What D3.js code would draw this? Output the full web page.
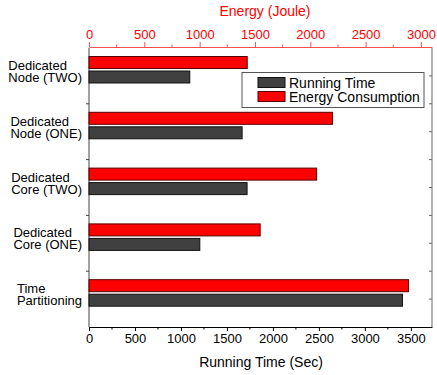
<!DOCTYPE html>
<html><head><meta charset="utf-8">
<script src="https://cdn.jsdelivr.net/npm/d3@7"></script>
<style>body{margin:0;background:#fff}svg{display:block;font-family:"Liberation Sans",Arial,sans-serif}</style>
</head><body><svg id="c" width="437" height="375"></svg>
<script>
const categories = [["Dedicated","Node (TWO)"],["Dedicated","Node (ONE)"],["Dedicated","Core (TWO)"],["Dedicated","Core (ONE)"],["Time","Partitioning"]];
const runningTime = [1096, 1665, 1719, 1205, 3409];
const energy = [1430, 2201, 2057, 1547, 2888];
const timeTicks = [0,500,1000,1500,2000,2500,3000,3500];
const energyTicks = [0,500,1000,1500,2000,2500,3000];
const legendLabels = ["Running Time","Energy Consumption"];

const svg = d3.select("#c");
const L=89, R=432, T=48, B=327;
const xT = d3.scaleLinear().domain([0,3730]).range([L,R]);
const xE = d3.scaleLinear().domain([0,3100]).range([L,R]);
const y = d3.scaleBand().domain(d3.range(categories.length)).range([T,B]);
const bw = y.bandwidth();

// frame
svg.append("line").attr("x1",L).attr("x2",L).attr("y1",T).attr("y2",B).attr("stroke","#444").attr("stroke-width",1);
svg.append("line").attr("x1",R).attr("x2",R).attr("y1",T).attr("y2",B).attr("stroke","#666").attr("stroke-width",1);

// bars
const g = svg.append("g");
categories.forEach((c,i)=>{
  const y0 = y(i);
  g.append("rect").attr("x",xE(0)).attr("y",y0+8.5).attr("width",xE(energy[i])-xE(0)).attr("height",12)
    .attr("fill","#ff0000").attr("stroke","#5a0000").attr("stroke-width",1);
  g.append("rect").attr("x",xT(0)).attr("y",y0+23).attr("width",xT(runningTime[i])-xT(0)).attr("height",12)
    .attr("fill","#404040").attr("stroke","#111").attr("stroke-width",1);
});

// left ticks between categories & right ticks
for(let i=1;i<categories.length;i++){
  const yy=y(i);
  svg.append("line").attr("x1",L-3).attr("x2",L).attr("y1",yy).attr("y2",yy).attr("stroke","#444");
  svg.append("line").attr("x1",R-3).attr("x2",R).attr("y1",yy).attr("y2",yy).attr("stroke","#666");
}
categories.forEach((c,i)=>{
  const yy=y(i)+bw/2;
  svg.append("line").attr("x1",R-3).attr("x2",R).attr("y1",yy).attr("y2",yy).attr("stroke","#666");
});

// category labels (left-aligned block, right edge at 82)
categories.forEach((c,i)=>{
  const cy = y(i)+bw/2;
  const t = svg.append("text").attr("font-size",13).attr("fill","#000");
  const t1 = t.append("tspan").attr("y",cy-6).text(c[0]);
  const t2 = t.append("tspan").attr("y",cy+6).text(c[1]);
  const w = Math.max(t1.node().getComputedTextLength(), t2.node().getComputedTextLength());
  t1.attr("x",82-w); t2.attr("x",82-w);
});

// bottom axis
const bAxis = d3.axisBottom(xT).tickValues(timeTicks).tickSize(4).tickSizeOuter(0).tickPadding(3).tickFormat(d3.format("d"));
const bg = svg.append("g").attr("transform",`translate(0,${B})`).call(bAxis);
bg.select(".domain").attr("stroke","#000");
bg.selectAll("text").attr("font-size",13).attr("fill","#000").attr("font-family","Liberation Sans, Arial, sans-serif");
bg.selectAll("line").attr("stroke","#000");
const bMinor = timeTicks.map(d=>d+250).filter(d=>d<3730);
bg.selectAll(".minor").data(bMinor).enter().append("line").attr("x1",d=>xT(d)).attr("x2",d=>xT(d)).attr("y1",0).attr("y2",2.5).attr("stroke","#000");

// top axis
const tAxis = d3.axisTop(xE).tickValues(energyTicks).tickSize(5).tickSizeOuter(0).tickPadding(3).tickFormat(d3.format("d"));
const tg = svg.append("g").attr("transform",`translate(0,${T-1})`).call(tAxis);
tg.select(".domain").attr("stroke","#ff5050");
tg.selectAll("line").attr("stroke","#ff5050");
tg.selectAll("text").attr("font-size",13).attr("fill","#ff0000").attr("font-family","Liberation Sans, Arial, sans-serif");
const tMinor = energyTicks.map(d=>d+250).filter(d=>d<3100);
tg.selectAll(".minor").data(tMinor).enter().append("line").attr("x1",d=>xE(d)).attr("x2",d=>xE(d)).attr("y1",0).attr("y2",-2.5).attr("stroke","#ff5050");

// axis titles
svg.append("text").attr("x",265).attr("y",16).attr("text-anchor","middle").attr("font-size",14).attr("fill","#ff0000").text("Energy (Joule)");
svg.append("text").attr("x",261).attr("y",367).attr("text-anchor","middle").attr("font-size",14).attr("fill","#000").text("Running Time (Sec)");

// legend
const lg = svg.append("g");
lg.append("rect").attr("x",242).attr("y",72.5).attr("width",182).attr("height",35).attr("fill","#fff").attr("stroke","#555");
const legColors = ["#404040","#ff0000"], legStroke=["#111","#5a0000"];
legendLabels.forEach((lab,i)=>{
  const yy = 77.5 + i*14;
  lg.append("rect").attr("x",258).attr("y",yy).attr("width",27).attr("height",10).attr("fill",legColors[i]).attr("stroke",legStroke[i]);
  lg.append("text").attr("x",289).attr("y",yy+10).attr("font-size",14).attr("fill","#000").text(lab);
});
</script></body></html>
